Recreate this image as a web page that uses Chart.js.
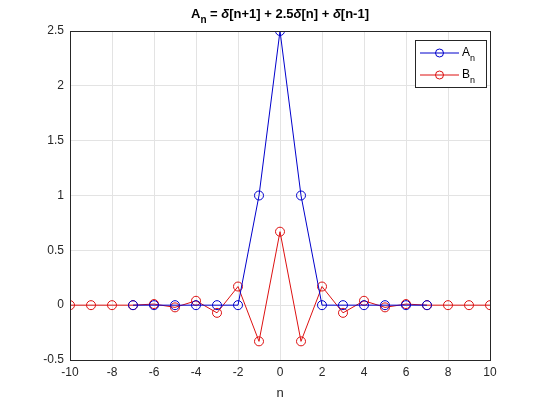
<!DOCTYPE html>
<html><head><script src="https://cdn.jsdelivr.net/npm/chart.js"></script>
<style>html,body{margin:0;padding:0;background:#fff}#c{width:540px;height:405px}</style></head>
<body><div id="c"><canvas id="cv" width="540" height="405"></canvas></div>
<script>
const nValues=[-10,-9,-8,-7,-6,-5,-4,-3,-2,-1,0,1,2,3,4,5,6,7,8,9,10];
const nA=[-7,-6,-5,-4,-3,-2,-1,0,1,2,3,4,5,6,7];
const aValues=[0,0,0,0,0,0,1,2.5,1,0,0,0,0,0,0];
const bValues=[0,0,0,0,0.01,-0.02,0.04,-0.07,0.17,-0.33,0.67,-0.33,0.17,-0.07,0.04,-0.02,0.01,0,0,0,0];
const xTicks=[-10,-8,-6,-4,-2,0,2,4,6,8,10];
const yTicks=[-0.5,0,0.5,1,1.5,2,2.5];
const F='"Liberation Sans", Arial, sans-serif';
const deco={id:'deco',afterDraw(c){const g=c.ctx,a=c.chartArea;g.save();
g.strokeStyle='#262626';g.lineWidth=1;g.strokeRect(Math.round(a.left)+0.5,Math.round(a.top)+0.5,Math.round(a.right-a.left),Math.round(a.bottom-a.top));
g.fillStyle='#000';g.textBaseline='alphabetic';
const parts=[['A','b',13],['n','bs',10],[' = ','b',13],['δ','bi',13],['[n+1] + 2.5','b',13],['δ','bi',13],['[n] + ','b',13],['δ','bi',13],['[n-1]','b',13]];
let w=0;parts.forEach(p=>{g.font=(p[1].includes('i')?'italic ':'')+'bold '+p[2]+'px '+F;w+=g.measureText(p[0]).width;});
let x=(a.left+a.right)/2-w/2;parts.forEach(p=>{g.font=(p[1].includes('i')?'italic ':'')+'bold '+p[2]+'px '+F;g.fillText(p[0],x,p[1].includes('s')?23:18);x+=g.measureText(p[0]).width;});
const lx=415,ly=40,lw=71,lh=47;g.fillStyle='#fff';g.fillRect(lx,ly,lw,lh);g.strokeStyle='#262626';g.strokeRect(lx+0.5,ly+0.5,lw,lh);
[['A','#0000cc',53],['B','#dd1111',75]].forEach(([t,col,yy])=>{g.strokeStyle=col;g.beginPath();g.moveTo(lx+5,yy);g.lineTo(lx+44,yy);g.stroke();g.beginPath();g.arc(lx+24.5,yy,4,0,7);g.stroke();
g.fillStyle='#000';g.font='12px '+F;g.fillText(t,lx+47,yy+3);g.font='9px '+F;g.fillText('n',lx+55,yy+8);});
g.restore();}};
new Chart(document.getElementById('cv'),{type:'scatter',
data:{datasets:[
{data:nA.map((n,i)=>({x:n,y:aValues[i]})),showLine:true,borderColor:'#0000cc',borderWidth:1,pointRadius:4.5,pointBorderColor:'#0000cc',pointBackgroundColor:'rgba(0,0,0,0)',pointBorderWidth:1},
{data:nValues.map((n,i)=>({x:n,y:bValues[i]})),showLine:true,borderColor:'#dd1111',borderWidth:1,pointRadius:4.5,pointBorderColor:'#dd1111',pointBackgroundColor:'rgba(0,0,0,0)',pointBorderWidth:1}]},
options:{responsive:false,animation:false,layout:{padding:{top:31,right:50,left:0,bottom:0}},
plugins:{legend:{display:false},tooltip:{enabled:false}},
scales:{
x:{type:'linear',min:-10,max:10,afterBuildTicks:s=>{s.ticks=xTicks.map(v=>({value:v}));},afterFit:s=>{s.height=45;},
grid:{color:'#e3e3e3',tickLength:0,drawTicks:false},border:{color:'#262626'},
ticks:{color:'#262626',font:{family:F,size:12},padding:5,maxRotation:0},title:{display:true,text:'n',color:'#262626',font:{family:F,size:13},padding:{top:1}}},
y:{min:-0.5,max:2.5,afterBuildTicks:s=>{s.ticks=yTicks.map(v=>({value:v}));},afterFit:s=>{s.width=70;},
grid:{color:'#e3e3e3',drawTicks:false},border:{color:'#262626'},
ticks:{color:'#262626',font:{family:F,size:12},padding:6,callback:v=>String(v)}}}},
plugins:[deco]});
</script></body></html>
